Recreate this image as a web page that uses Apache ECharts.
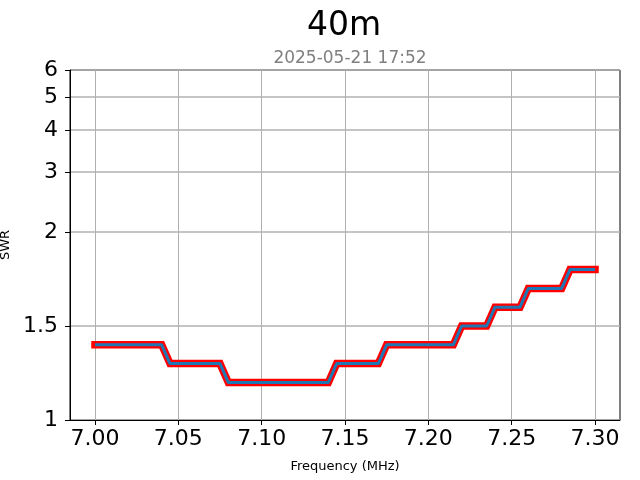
<!DOCTYPE html>
<html>
<head>
<meta charset="utf-8">
<script src="https://cdn.jsdelivr.net/npm/echarts@6/dist/echarts.min.js"></script>
<style>html,body{margin:0;padding:0;background:#fff;}#chart{width:640px;height:480px;}</style>
</head>
<body>
<div id="chart"></div>
<script>
// ---- data ----
const freqs = [7.000,7.005,7.010,7.015,7.020,7.025,7.030,7.035,7.040,
  7.045,7.050,7.055,7.060,7.065,7.070,7.075,
  7.080,7.085,7.090,7.095,7.100,7.105,7.110,7.115,7.120,7.125,7.130,7.135,7.140,
  7.145,7.150,7.155,7.160,7.165,7.170,
  7.175,7.180,7.185,7.190,7.195,7.200,7.205,7.210,7.215,
  7.220,7.225,7.230,7.235,
  7.240,7.245,7.250,7.255,
  7.260,7.265,7.270,7.275,7.280,
  7.285,7.290,7.295,7.300];
const swr = [1.4,1.4,1.4,1.4,1.4,1.4,1.4,1.4,1.4,
  1.3,1.3,1.3,1.3,1.3,1.3,1.3,
  1.2,1.2,1.2,1.2,1.2,1.2,1.2,1.2,1.2,1.2,1.2,1.2,1.2,
  1.3,1.3,1.3,1.3,1.3,1.3,
  1.4,1.4,1.4,1.4,1.4,1.4,1.4,1.4,1.4,
  1.5,1.5,1.5,1.5,
  1.6,1.6,1.6,1.6,
  1.7,1.7,1.7,1.7,1.7,
  1.8,1.8,1.8,1.8];
const xTicks = [7.00,7.05,7.10,7.15,7.20,7.25,7.30];
const yTicks = [1,1.5,2,3,4,5,6];
const yTickLabels = ['1','1.5','2','3','4','5','6'];
const titleText = '40m';
const subtitleText = '2025-05-21 17:52';

// SWR axis scale: linear up to 2, logarithmic above
function T(s){ return s <= 2 ? (s - 1) * 188 : 188 + 147.5 * Math.log(s / 2); }
const yTickVals = yTicks.map(T);
const seriesData = freqs.map((f, i) => [f, T(swr[i])]);

const chart = echarts.init(document.getElementById('chart'), null, {renderer: 'canvas'});
const font = 'DejaVu Sans';
chart.setOption({
  animation: false,
  backgroundColor: '#ffffff',
  title: [
    {text: titleText, left: 339, top: 5, textAlign: 'center',
     textStyle: {fontFamily: font, fontSize: 33, fontWeight: 'normal', color: '#000'}},
    {text: subtitleText, left: 345, top: 45, textAlign: 'center',
     textStyle: {fontFamily: font, fontSize: 17, fontWeight: 'normal', color: '#808080'}}
  ],
  grid: {left: 70, right: 20, top: 70, bottom: 60, show: true, borderColor: '#000', borderWidth: 1,
         backgroundColor: 'transparent', containLabel: false, outerBoundsMode: 'none'},
  xAxis: {
    type: 'value', min: 6.985, max: 7.315,
    name: 'Frequency (MHz)', nameLocation: 'middle', nameGap: 40,
    nameTextStyle: {fontFamily: font, fontSize: 13, color: '#000'},
    axisLine: {show: true, lineStyle: {color: '#000', width: 1}},
    axisTick: {show: true, length: 5, customValues: xTicks, lineStyle: {color: '#000', width: 1}},
    axisLabel: {customValues: xTicks, margin: 8, fontFamily: font, fontSize: 22, color: '#000',
      formatter: v => v.toFixed(2)},
    splitLine: {show: true, lineStyle: {color: '#b0b0b0', width: 1}}
  },
  yAxis: {
    type: 'value', min: 0, max: T(6),
    name: 'SWR', nameLocation: 'middle', nameGap: 55, nameRotate: 90,
    nameTextStyle: {fontFamily: font, fontSize: 13, color: '#000'},
    axisLine: {show: true, lineStyle: {color: '#000', width: 1}},
    axisTick: {show: true, length: 5, customValues: yTickVals, lineStyle: {color: '#000', width: 1}},
    axisLabel: {customValues: yTickVals, margin: 12, fontFamily: font, fontSize: 22, color: '#000',
      formatter: v => {
        for (let i = 0; i < yTickVals.length; i++) if (Math.abs(yTickVals[i] - v) < 1e-6) return yTickLabels[i];
        return '';
      }},
    splitLine: {show: true, lineStyle: {color: '#b0b0b0', width: 1.5}}
  },
  series: [
    {type: 'line', data: seriesData, showSymbol: false, symbol: 'none', z: 2,
     lineStyle: {color: '#ff0000', width: 7.5, cap: 'square', join: 'miter'}},
    {type: 'line', data: seriesData, showSymbol: false, symbol: 'none', z: 3,
     lineStyle: {color: '#1f77b4', width: 3, cap: 'butt'}}
  ]
});
</script>
</body>
</html>
